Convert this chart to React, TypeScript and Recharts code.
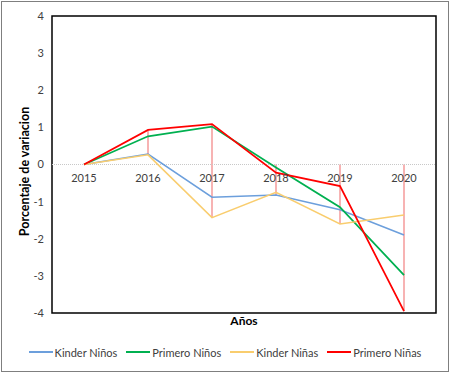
import {
  ComposedChart,
  Line,
  Bar,
  XAxis,
  YAxis,
  Legend,
  ReferenceLine,
  ReferenceArea,
} from "recharts";

const YEARS = ["2015", "2016", "2017", "2018", "2019", "2020"];
const KINDER_NINOS = [0, 0.28, -0.88, -0.82, -1.22, -1.9];
const PRIMERO_NINOS = [0, 0.76, 1.02, -0.08, -1.15, -2.98];
const KINDER_NINAS = [0, 0.26, -1.43, -0.75, -1.6, -1.36];
const PRIMERO_NINAS = [0, 0.93, 1.09, -0.22, -0.58, -3.95];
const Y_TICKS = [-4, -3, -2, -1, 0, 1, 2, 3, 4];

const SERIES = [
  { key: "kn", name: "Kinder Niños", color: "#6c9fdc", width: 1.5 },
  { key: "pn", name: "Primero Niños", color: "#00b050", width: 1.75 },
  { key: "ka", name: "Kinder Niñas", color: "#f9cd6e", width: 1.5 },
  { key: "pa", name: "Primero Niñas", color: "#ff0000", width: 1.75 },
];

const W = 452;
const H = 374;
const MARGIN = { top: 16, right: 16, left: 12, bottom: 13 };
const PLOT_H = 297;
const ZERO_Y = MARGIN.top + PLOT_H / 2;
const FONT = "Lato, 'Open Sans', sans-serif";
const TEXT = "#404040";

// high-low lines: from the top value (or 0) down to the lowest one
const data = YEARS.map((year, i) => {
  const vals = [KINDER_NINOS[i], PRIMERO_NINOS[i], KINDER_NINAS[i], PRIMERO_NINAS[i]];
  return {
    year,
    kn: KINDER_NINOS[i],
    pn: PRIMERO_NINOS[i],
    ka: KINDER_NINAS[i],
    pa: PRIMERO_NINAS[i],
    range: [Math.min(...vals), Math.max(0, ...vals)],
  };
});

function YearTick(props: any) {
  const { x, payload } = props;
  return (
    <text
      x={x}
      y={ZERO_Y + 15}
      textAnchor="middle"
      dominantBaseline="middle"
      fontSize={11}
      fontFamily={FONT}
      fill={TEXT}
    >
      {payload.value}
    </text>
  );
}

function LegendContent() {
  return (
    <div
      style={{
        display: "flex",
        justifyContent: "center",
        alignItems: "center",
        gap: 9,
        height: 18,
        paddingLeft: 2,
        fontSize: 11,
        fontFamily: FONT,
        color: TEXT,
        whiteSpace: "nowrap",
      }}
    >
      {SERIES.map((s) => (
        <div key={s.key} style={{ display: "flex", alignItems: "center", gap: 2 }}>
          <svg width={24} height={4}>
            <line x1={0} x2={24} y1={2} y2={2} stroke={s.color} strokeWidth={2} />
          </svg>
          <span>{s.name}</span>
        </div>
      ))}
    </div>
  );
}

export default function App() {
  return (
    <div style={{ position: "absolute", left: 0, top: 0, width: W, height: H, background: "#fff" }}>
      <div
        style={{
          position: "absolute",
          left: 1,
          top: 1,
          width: 446,
          height: 369,
          border: "1px solid #7f7f7f",
        }}
      />
      <ComposedChart width={W} height={H} data={data} margin={MARGIN}>
        <XAxis
          dataKey="year"
          height={30}
          axisLine={false}
          tickLine={false}
          interval={0}
          tick={<YearTick />}
          label={{
            value: "Años",
            position: "insideTop",
            offset: 3,
            style: { fontSize: 12, fontWeight: 700, fill: "#000", fontFamily: FONT },
          }}
        />
        <YAxis
          width={40}
          domain={[-4, 4]}
          ticks={Y_TICKS}
          axisLine={false}
          tickLine={false}
          tick={{ fontSize: 11, fill: TEXT, fontFamily: FONT }}
          label={{
            value: "Porcentaje de variacion",
            angle: -90,
            position: "center",
            dx: -7,
            dy: 7,
            style: { fontSize: 12.5, fontWeight: 700, fill: "#000", fontFamily: FONT, textAnchor: "middle" },
          }}
        />
        <ReferenceLine y={0} stroke="#c8c8c8" strokeDasharray="1 1" />
        <Bar dataKey="range" barSize={2} fill="#f7b3b3" legendType="none" isAnimationActive={false} />
        {SERIES.map((s) => (
          <Line
            key={s.key}
            dataKey={s.key}
            name={s.name}
            stroke={s.color}
            strokeWidth={s.width}
            dot={false}
            isAnimationActive={false}
          />
        ))}
        <ReferenceArea y1={-4} y2={4} fill="none" stroke="#000" strokeWidth={1.5} ifOverflow="visible" />
        <Legend verticalAlign="bottom" content={<LegendContent />} />
      </ComposedChart>
    </div>
  );
}
